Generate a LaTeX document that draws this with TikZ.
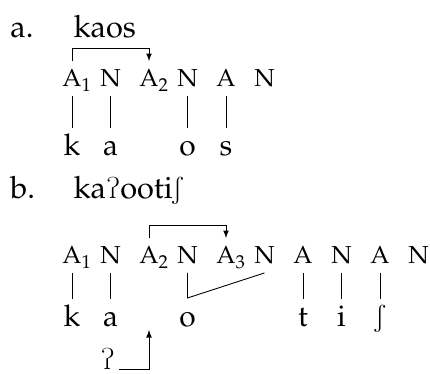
\documentclass[tikz,border=0pt]{standalone}
\usepackage[T1]{fontenc}
\usepackage{mathpazo}
\usepackage{tipa}
\tikzset{
  tier/.style={anchor=base, inner sep=0pt, inner ysep=0.17cm, text height=0.34cm, text depth=0pt, font=\fontsize{14}{17}\selectfont},
  seg/.style={anchor=base, inner sep=0pt, inner ysep=0.12cm, text height=0.43cm, text depth=0pt, font=\fontsize{17}{20}\selectfont},
  lbl/.style={anchor=base west, inner sep=0pt, font=\fontsize{17.5}{21}\selectfont},
  ins/.style={anchor=base, inner sep=0pt, font=\fontsize{17}{20}\selectfont},
}
\begin{document}
\begin{tikzpicture} [x=0.77cm, y=1cm, line width=0.5pt]
    \useasboundingbox (-1.870, 1.74) rectangle (9.299, -5.74);
    % (a)
    \node[lbl] (la) at (-1.61, 0.98) {a.};
    \node[lbl] (wa) at (0.03, 0.98) {kaos};
    \node[tier] (a1) at (0, 0) {A\rlap{$_1$}};
    \node[tier] (a2) at (1, 0) {N};
    \node[tier] (a3) at (2, 0) {A\rlap{$_2$}};
    \node[tier] (a4) at (3, 0) {N};
    \node[tier] (a5) at (4, 0) {A};
    \node[tier] (a6) at (5, 0) {N};
    \node[seg] (sa1) at (0, -1.38) {k};
    \node[seg] (sa2) at (1, -1.38) {a};
    \node[seg] (sa3) at (3, -1.38) {o};
    \node[seg] (sa4) at (4, -1.38) {s};
    \draw (a1) -- (sa1);
    \draw (a2) -- (sa2);
    \draw (a4) -- (sa3);
    \draw (a5) -- (sa4);
    \draw[-latex] (a1.north) -- +(0, 0.26) -| (a3.north);
    % (b)
    \node[lbl] (lb) at (-1.61, -2.24) {b.};
    \node[lbl] (wb) at (0.03, -2.24) {ka\textglotstop ooti\textesh};
    \node[tier] (b1) at (0, -3.54) {A\rlap{$_1$}};
    \node[tier] (b2) at (1, -3.54) {N};
    \node[tier] (b3) at (2, -3.54) {A\rlap{$_2$}};
    \node[tier] (b4) at (3, -3.54) {N};
    \node[tier] (b5) at (4, -3.54) {A\rlap{$_3$}};
    \node[tier] (b6) at (5, -3.54) {N};
    \node[tier] (b7) at (6, -3.54) {A};
    \node[tier] (b8) at (7, -3.54) {N};
    \node[tier] (b9) at (8, -3.54) {A};
    \node[tier] (b10) at (9, -3.54) {N};
    \node[seg] (sb1) at (0, -4.80) {k};
    \node[seg] (sb2) at (1, -4.80) {a};
    \node[seg] (sb3) at (3, -4.80) {o};
    \node[seg] (sb4) at (6, -4.80) {t};
    \node[seg] (sb5) at (7, -4.80) {i};
    \node[seg] (sb6) at (8, -4.80) {\textesh};
    \node[ins] (gs) at (0.93, -5.66) {\textglotstop};
    \coordinate (vb) at (3, -4.22);
    \coordinate (ip) at (2, -4.86);
    \draw (b1) -- (sb1);
    \draw (b2) -- (sb2);
    \draw (b4) -- (vb) -- (b6.south);
    \draw (b7) -- (sb4);
    \draw (b8) -- (sb5);
    \draw (b9) -- (sb6);
    \draw[-latex] (b3.north) -- +(0, 0.26) -| (b5.north);
    \draw[-latex] ([xshift=0.08cm, yshift=0.02cm]gs.base east) -| (ip);
    \end{tikzpicture}
\end{document}
